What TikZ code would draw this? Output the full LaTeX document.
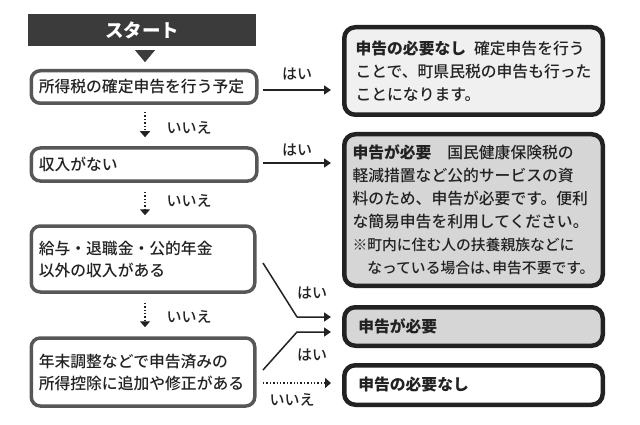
\documentclass[tikz,border=0pt]{standalone}
\usepackage{fontspec}
\setmainfont{Noto Sans CJK JP}[UprightFont=* Medium, BoldFont=* Black]
\usetikzlibrary{arrows.meta,calc}
\definecolor{ink}{HTML}{222222}
\definecolor{lgray}{HTML}{575757}
\definecolor{startfill}{HTML}{3B3B3B}
\definecolor{lightfill}{HTML}{F0F0F0}
\definecolor{midfill}{HTML}{D6D6D6}
\begin{document}
\begin{tikzpicture}[x=1pt,y=-1pt,
  lbox/.style={draw=lgray, line width=3.5pt, rounded corners=9pt, fill=white, text=ink,
    align=left, inner xsep=7.5pt, inner ysep=0pt, font=\fontsize{15.8}{22}\selectfont},
  rbox/.style={draw=ink, line width=4.5pt, rounded corners=11pt, text=ink,
    align=left, inner ysep=0pt, font=\fontsize{15.8}{23}\selectfont},
  startbox/.style={fill=startfill, text=white, inner sep=0pt,
    font=\fontsize{18.5}{20}\selectfont\bfseries},
  lbl/.style={text=ink, inner sep=0pt, font=\fontsize{15}{17}\selectfont},
  yesarrow/.style={draw=ink, line width=1.5pt, line join=round, -{Triangle[length=7pt,width=9pt]}},
  noarrow/.style={draw=ink, line width=1.4pt, dotted, -{Triangle[length=6pt,width=10pt]}}
]
\useasboundingbox (0,0) rectangle (640,425);

% start
\node[startbox, minimum width=228pt, minimum height=32pt] (start) at (142,30) {スタート};
\fill[startfill] ($(start.south)+(-7,4)$) -- ($(start.south)+(13,4)$) -- ($(start.south)+(3,16)$) -- cycle;

% left questions
\node[lbox, text width=210.5pt, minimum height=32.5pt] (q1) at (144,87) {所得税の確定申告を行う予定};
\node[lbox, text width=210.5pt, minimum height=33pt] (q2) at (144,164.5) {収入がない};
\node[lbox, text width=208.5pt, minimum height=66pt] (q3) at (143,259) {給与・退職金・公的年金\\以外の収入がある};
\node[lbox, text width=208.5pt, minimum height=68pt] (q4) at (143,372) {年末調整などで申告済みの\\所得控除に追加や修正がある};

% right results
\node[rbox, fill=lightfill, minimum width=258.5pt, minimum height=87.5pt] (r1) at (473.5,71)
  {\textbf{申告の必要なし}\hspace{0.5em}確定申告を行う\\ことで、町県民税の申告も行った\\ことになります。};
\node[rbox, fill=midfill, minimum width=258.5pt, minimum height=151.5pt] (r2) at (473.5,210)
  {\textbf{申告が必要}\hspace{1em}国民健康保険税の\\軽減措置など公的サービスの資\\料のため、申告が必要です。便利\\な簡易申告を利用してください。\\
   {\fontsize{14.8}{23}\selectfont ※町内に住む人の扶養親族などに}\\
   {\fontsize{14.8}{23}\selectfont\hspace*{1em}なっている場合は\makebox[0.5em][l]{、}申告不要です。}};
\node[rbox, fill=midfill, text width=230.5pt, inner xsep=14pt, minimum height=38.5pt] (r3) at (473.5,326.5) {\textbf{申告が必要}};
\node[rbox, fill=white, text width=230.5pt, inner xsep=14pt, minimum height=39.5pt] (r4) at (473.5,385) {\textbf{申告の必要なし}};

% vertical "no" arrows
\draw[noarrow, shorten <=7pt, shorten >=9pt] ([xshift=1pt]q1.south) -- ([xshift=1pt]q2.north);
\draw[noarrow, shorten <=9pt, shorten >=9pt] ([xshift=1pt]q2.south) -- ([xshift=2pt]q3.north);
\draw[noarrow, shorten <=9pt, shorten >=9pt] ([xshift=2pt]q3.south) -- ([xshift=2pt]q4.north);
\node[lbl] (n1) at (189,127.5) {いいえ};
\node[lbl] (n2) at (189,201) {いいえ};
\node[lbl] (n3) at (189,317) {いいえ};

% "yes" arrows
\coordinate (a1s) at (263,90);   \coordinate (a1e) at (331,90);
\coordinate (a2s) at (263,163);  \coordinate (a2e) at (331,163);
\draw[yesarrow] (a1s) -- (a1e);
\draw[yesarrow] (a2s) -- (a2e);
\node[lbl] (y1) at (297,74) {はい};
\node[lbl] (y2) at (297,150) {はい};

\coordinate (d1a) at (263,263); \coordinate (d1b) at (297,317); \coordinate (d1c) at (331,317);
\coordinate (d2a) at (263,370); \coordinate (d2b) at (297,332); \coordinate (d2c) at (331,332);
\draw[yesarrow] (d1a) -- (d1b) -- (d1c);
\draw[yesarrow] (d2a) -- (d2b) -- (d2c);
\node[lbl] (y3) at (312,293) {はい};
\node[lbl] (y4) at (312,355) {はい};

\coordinate (e1s) at (263,383); \coordinate (e1e) at (331,383);
\draw[noarrow] (e1s) -- (e1e);
\node[lbl] (n4) at (292,400) {いいえ};
\end{tikzpicture}
\end{document}
